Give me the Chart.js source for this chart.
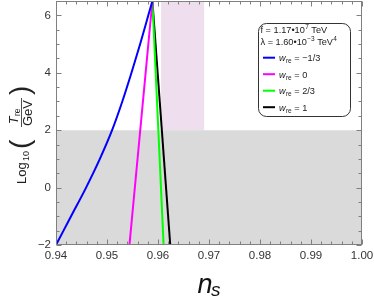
<!DOCTYPE html>
<html>
<head>
<meta charset="utf-8">
<script src="https://cdn.jsdelivr.net/npm/chart.js@4.4.1/dist/chart.umd.min.js"></script>
<style>
html,body{margin:0;padding:0;background:#fff}
canvas{display:block}
</style>
</head>
<body>
<canvas id="myChart" width="374" height="296"></canvas>
<script>
// axis ticks
const nsTicks=[0.94,0.95,0.96,0.97,0.98,0.99,1.00];
const logTTicks=[-2,0,2,4,6];
const nsRange=[0.94,1.00];
const logTRange=[-2,6.5];

// excluded region (log T_re below 2) and the Planck n_s band
const bbnCut=2;
const planckNs=[0.9606,0.9691];

// reheating curves
const wLabels=['\u22121/3','0','2/3','1'];
const wColors=['#0000ff','#ff00ff','#00ff00','#000000'];
const logTMinusThird=[-2,-1,0,1,2,3,4,5,6,6.5];
const nsMinusThird=[0.9400,0.94295,0.9459,0.9486,0.9510,0.9530,0.9548,0.9565,0.9581,0.9589];
const logTLine=[-2,6.5];
const nsZero=[0.9544,0.9589];
const nsTwoThirds=[0.9611,0.9589];
const nsOne=[0.9624,0.9589];

const pts=(xs,ys)=>xs.map((x,i)=>({x:x,y:ys[i]}));
const curveNs=[nsMinusThird,nsZero,nsTwoThirds,nsOne];
const curveLogT=[logTMinusThird,logTLine,logTLine,logTLine];

let datasets=curveNs.map((ns,i)=>({
  label:wLabels[i],
  isCurve:true,
  data:pts(ns,curveLogT[i]),
  borderColor:wColors[i],
  borderWidth:2,
  pointRadius:0,
  fill:false,
  cubicInterpolationMode:'monotone',
  order:i
}));
datasets.push({
  label:'bbn',
  data:pts(nsRange,[bbnCut,bbnCut]),
  borderWidth:0,
  borderColor:'rgba(0,0,0,0)',
  backgroundColor:'#dadada',
  pointRadius:0,
  fill:'start',
  order:20
});
datasets.push({
  label:'planck',
  data:pts(planckNs,[logTRange[1],logTRange[1]]),
  borderWidth:0,
  borderColor:'rgba(0,0,0,0)',
  backgroundColor:'#efdfee',
  pointRadius:0,
  fill:{value:bbnCut},
  order:21
});

const SANS='"Liberation Sans", Arial, sans-serif';

// Mathematica style frame with inward ticks on all four sides
const frameTicks={
  id:'frameTicks',
  afterDatasetsDraw(chart){
    const {ctx,chartArea:a,scales:{x,y}}=chart;
    ctx.save();
    ctx.strokeStyle='#808080';
    ctx.lineWidth=1;
    const L=Math.round(a.left)+0.5,R=Math.round(a.right)-0.5,T=Math.round(a.top)+0.5,B=Math.round(a.bottom)-0.5;
    ctx.strokeRect(L,T,R-L,B-T);
    ctx.beginPath();
    for(let i=0;i<=30;i++){
      const px=Math.round(x.getPixelForValue(nsRange[0]+i*0.002))+0.5;
      const len=i%5==0?5:3;
      ctx.moveTo(px,B);ctx.lineTo(px,B-len);
      ctx.moveTo(px,T);ctx.lineTo(px,T+len);
    }
    for(let i=0;i<=17;i++){
      const py=Math.round(y.getPixelForValue(logTRange[0]+i*0.5))+0.5;
      const len=i%4==0?5:3;
      ctx.moveTo(L,py);ctx.lineTo(L+len,py);
      ctx.moveTo(R,py);ctx.lineTo(R-len,py);
    }
    ctx.stroke();
    ctx.restore();
  }
};

// legend box with parameters and curve samples
const boxLegend={
  id:'boxLegend',
  afterDraw(chart){
    const ctx=chart.ctx;
    ctx.save();
    const bx=258.5,by=23.5,bw=92,bh=93,r=8;
    ctx.beginPath();
    ctx.roundRect(bx,by,bw,bh,r);
    ctx.fillStyle='#fff';ctx.fill();
    ctx.strokeStyle='#333';ctx.lineWidth=1;ctx.stroke();
    ctx.fillStyle='#222';
    ctx.textBaseline='alphabetic';
    let fs=9.2;
    const txt=(s,x,y,f)=>{ctx.font=f;ctx.fillText(s,x,y);return x+ctx.measureText(s).width;};
    let xx=txt('f = 1.17\u202210',260.5,32.5,fs+'px '+SANS);
    xx=txt('7',xx+0.3,28.5,'6.5px '+SANS);
    txt(' TeV',xx,32.5,fs+'px '+SANS);
    xx=txt('\u03bb = 1.60\u202210',260.5,45,fs+'px '+SANS);
    xx=txt('\u22123',xx+0.3,41,'6.5px '+SANS);
    xx=txt(' TeV',xx,45,fs+'px '+SANS);
    txt('4',xx+0.3,41,'6.5px '+SANS);
    let row=0;
    chart.data.datasets.forEach(ds=>{
      if(!ds.isCurve) return;
      const cy=57.7+row*16.5;
      ctx.strokeStyle=ds.borderColor;ctx.lineWidth=2;
      ctx.beginPath();ctx.moveTo(263,cy);ctx.lineTo(275,cy);ctx.stroke();
      ctx.fillStyle='#222';
      let p=txt('w',279,cy+3.3,'italic '+fs+'px '+SANS);
      p=txt('re',p+0.3,cy+5.5,'6.5px '+SANS);
      txt(' = '+ds.label,p,cy+3.3,fs+'px '+SANS);
      row++;
    });
    ctx.restore();
  }
};

// axis titles
const axisTitles={
  id:'axisTitles',
  afterDraw(chart){
    const ctx=chart.ctx;
    ctx.save();
    ctx.fillStyle='#111';
    ctx.font='italic 27px '+SANS;
    ctx.fillText('n',197.5,293);
    ctx.font='italic 19px '+SANS;
    ctx.fillText('s',211,296);
    // rotated y title
    ctx.translate(21,132);
    ctx.rotate(-Math.PI/2);
    ctx.fillStyle='#222';
    ctx.font='13px '+SANS;
    ctx.fillText('Log',-52,5);
    ctx.font='9px '+SANS;
    ctx.fillText('10',-29,8);
    ctx.font='28px '+SANS;
    ctx.fillText('(',-17,8);
    ctx.font='italic 12.5px '+SANS;
    ctx.fillText('T',8,-3);
    ctx.font='8.5px '+SANS;
    ctx.fillText('re',16,-1);
    ctx.fillRect(5,0,29,0.8);
    ctx.font='13px '+SANS;
    ctx.fillText('GeV',6,11);
    ctx.font='28px '+SANS;
    ctx.fillText(')',37,8);
    ctx.restore();
  }
};

const noPad=s=>{s.paddingTop=0;s.paddingBottom=0;s.paddingLeft=0;s.paddingRight=0;};

new Chart(document.getElementById('myChart'),{
  type:'line',
  data:{datasets:datasets},
  options:{
    responsive:false,
    animation:false,
    devicePixelRatio:1,
    layout:{padding:{left:0,right:12,top:1,bottom:0}},
    plugins:{legend:{display:false},tooltip:{enabled:false},title:{display:false}},
    scales:{
      x:{
        type:'linear',min:nsRange[0],max:nsRange[1],
        afterBuildTicks:s=>{s.ticks=nsTicks.map(v=>({value:v}));},
        afterFit:s=>{s.height=51;noPad(s);},
        grid:{display:false,drawTicks:false},
        border:{display:false},
        ticks:{padding:4,color:'#333',font:{family:SANS,size:11.5},callback:v=>v.toFixed(2),maxRotation:0,autoSkip:false}
      },
      y:{
        type:'linear',min:logTRange[0],max:logTRange[1],
        afterBuildTicks:s=>{s.ticks=logTTicks.map(v=>({value:v}));},
        afterFit:s=>{s.width=56;noPad(s);},
        grid:{display:false,drawTicks:false},
        border:{display:false},
        ticks:{padding:5,color:'#333',font:{family:SANS,size:11.5},callback:v=>String(v).replace('-','\u2212')}
      }
    }
  },
  plugins:[frameTicks,boxLegend,axisTitles]
});
</script>
</body>
</html>
